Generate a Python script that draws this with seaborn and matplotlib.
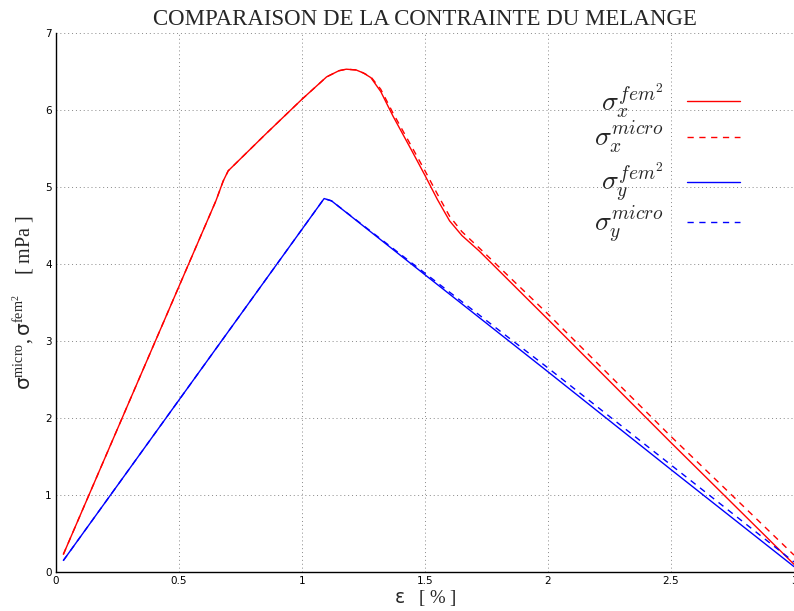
import numpy as np
import pandas as pd
import matplotlib
matplotlib.use("Agg")
import matplotlib.pyplot as plt
import seaborn as sns

# ---- data ----
x_red_fem = [0.03, 0.30, 0.55, 0.65, 0.68, 0.70, 0.85, 1.00, 1.10, 1.15, 1.18, 1.22, 1.25, 1.28,
             1.32, 1.37, 1.45, 1.50, 1.55, 1.60, 1.65, 1.72, 2.00, 2.50, 3.00]
y_red_fem = [0.23, 2.23, 4.08, 4.82, 5.08, 5.21, 5.68, 6.14, 6.43, 6.51, 6.53, 6.52, 6.48, 6.42,
             6.24, 5.92, 5.45, 5.15, 4.84, 4.56, 4.37, 4.17, 3.28, 1.68, 0.10]
x_red_micro = [0.03, 0.30, 0.55, 0.65, 0.68, 0.70, 0.85, 1.00, 1.10, 1.15, 1.18, 1.22, 1.25, 1.28,
               1.32, 1.37, 1.45, 1.50, 1.55, 1.60, 1.65, 1.72, 2.00, 2.50, 3.00]
y_red_micro = [0.23, 2.23, 4.08, 4.82, 5.08, 5.21, 5.68, 6.14, 6.43, 6.51, 6.53, 6.52, 6.48, 6.43,
               6.27, 5.96, 5.50, 5.21, 4.91, 4.62, 4.42, 4.21, 3.35, 1.76, 0.22]
x_blue_fem = [0.03, 1.09, 1.12, 1.50, 2.00, 2.50, 3.00]
y_blue_fem = [0.15, 4.85, 4.82, 3.86, 2.60, 1.33, 0.07]
x_blue_micro = [0.03, 1.09, 1.12, 1.50, 2.00, 2.50, 3.00]
y_blue_micro = [0.15, 4.85, 4.82, 3.88, 2.65, 1.39, 0.13]

labels = [r'$\sigma_x^{fem^2}$', r'$\sigma_x^{micro}$', r'$\sigma_y^{fem^2}$', r'$\sigma_y^{micro}$']
colors = ['#ff0000', '#ff0000', '#0000ff', '#0000ff']
styles = ['solid', 'dashed', 'solid', 'dashed']
xticks = [0, 0.5, 1, 1.5, 2, 2.5, 3]
xticklabels = ['0', '0.5', '1', '1.5', '2', '2.5', '3']
yticks = [0, 1, 2, 3, 4, 5, 6, 7]

frames = []
for xs, ys, lab in [(x_red_fem, y_red_fem, labels[0]), (x_red_micro, y_red_micro, labels[1]),
                    (x_blue_fem, y_blue_fem, labels[2]), (x_blue_micro, y_blue_micro, labels[3])]:
    frames.append(pd.DataFrame({'eps': xs, 'sig': ys, 'serie': lab}))
df = pd.concat(frames, ignore_index=True)

sns.set_style("white")
plt.rcParams['font.family'] = ['DejaVu Sans']
plt.rcParams['mathtext.fontset'] = 'custom'
plt.rcParams['mathtext.rm'] = 'Liberation Serif'
plt.rcParams['mathtext.it'] = 'Liberation Serif:italic'
plt.rcParams['mathtext.sf'] = 'DejaVu Sans'

fig = plt.figure(figsize=(7.94, 6.11), dpi=100)
ax = fig.add_axes([56/794, 1-572/611, (794-56)/794, (572-33)/611])

for lab, c, ls in zip(labels, colors, styles):
    sub = df[df['serie'] == lab]
    sns.lineplot(data=sub, x='eps', y='sig', color=c, linestyle=ls, linewidth=1.0,
                 ax=ax, label=lab, estimator=None, sort=False)
lines = ax.get_lines()
for line, ls in zip(lines, styles):
    if ls == 'dashed':
        line.set_dashes((4.5, 4))

ax.set_xlim(0, 3)
ax.set_ylim(0, 7)
ax.set_xticks(xticks)
ax.set_xticklabels(xticklabels)
ax.set_yticks(yticks)
ax.tick_params(direction='in', length=3, width=0.8, labelsize=7.5, pad=3, colors='black')
ax.grid(True, linestyle=(0, (1, 3)), color='#888888', linewidth=0.7)
for s in ['top', 'right']:
    ax.spines[s].set_visible(False)
for s in ['left', 'bottom']:
    ax.spines[s].set_color('black')
    ax.spines[s].set_linewidth(1.0)

ax.set_title('COMPARAISON DE LA CONTRAINTE DU MELANGE', family='Liberation Serif',
             fontsize=16.5, pad=6)
xl = ax.set_xlabel(r'$\mathsf{\varepsilon}$   [ % ]', family='Liberation Serif', fontsize=13.5,
                   labelpad=1)
xl.set_math_fontfamily('custom')
yl = ax.set_ylabel(r'$\mathsf{\sigma}^{\mathrm{micro}}, \mathsf{\sigma}^{\mathrm{fem}^{2}}$    [ mPa ]',
                   family='Liberation Serif', fontsize=14.5, labelpad=6)
yl.set_math_fontfamily('custom')

if ax.get_legend():
    ax.get_legend().remove()
leg_kw = dict(loc='upper left', bbox_transform=fig.transFigure, frameon=False, markerfirst=False,
              fontsize=20, handlelength=1.9, labelspacing=0.0, handletextpad=0.85,
              borderaxespad=0, borderpad=0)
leg1 = ax.legend(lines[:2], labels[:2], bbox_to_anchor=(594/794, 1-81/611), **leg_kw)
ax.add_artist(leg1)
leg2 = ax.legend(lines[2:], labels[2:], bbox_to_anchor=(594/794, 1-161/611), **leg_kw)
for lg in (leg1, leg2):
    for t in lg.get_texts():
        t.set_math_fontfamily('cm')

fig.savefig('out.png', dpi=100)
